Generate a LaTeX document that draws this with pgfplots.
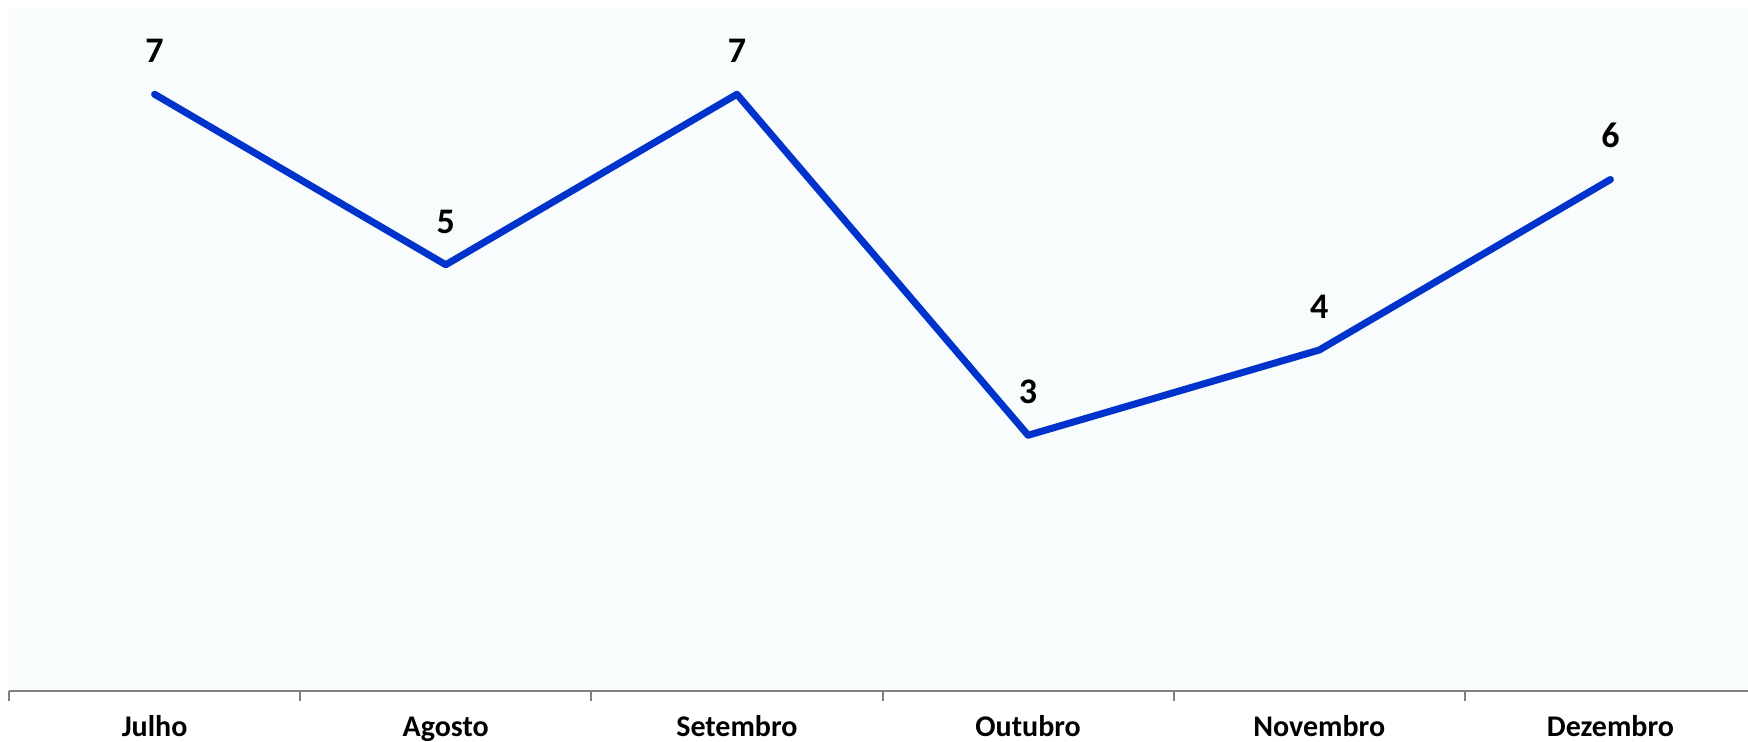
\documentclass[border=0pt]{standalone}
\usepackage{pgfplots}
\pgfplotsset{compat=1.18}
\usepackage{fontspec}
\setmainfont{Carlito}
\definecolor{linecol}{RGB}{0,51,204}
\definecolor{plotbg}{RGB}{248,252,253}
\definecolor{axgray}{RGB}{128,128,128}
\begin{document}
\begin{tikzpicture}
\useasboundingbox (0,0) rectangle (874pt,370.5pt);
\clip (0,0) rectangle (874pt,370.5pt);
\begin{axis}[
  at={(4.5pt,25pt)}, anchor=south west,
  scale only axis, width=873.5pt, height=341pt,
  xmin=-0.5, xmax=5.5, ymin=0, ymax=8,
  axis y line=none,
  axis x line*=bottom,
  x axis line style={draw=axgray, line width=1pt, -},
  axis background/.style={fill=plotbg},
  xtick={0,1,2,3,4,5},
  xticklabels={Julho,Agosto,Setembro,Outubro,Novembro,Dezembro},
  major tick length=0pt,
  minor xtick={-0.5,0.5,1.5,2.5,3.5,4.5,5.5},
  minor tick length=5pt,
  tick align=outside,
  minor tick style={draw=axgray, line width=1pt},
  xticklabel style={font=\bfseries\fontsize{15}{18}\selectfont, anchor=base, yshift=-22.5pt},
  clip=false,
  nodes near coords,
  /pgf/number format/assume math mode=true,
  every node near coord/.append style={font=\bfseries\fontsize{18}{21}\selectfont, anchor=south, inner sep=0pt, yshift=14pt, text=black},
]
\addplot[color=linecol, line width=3.5pt, line cap=round, line join=round, mark=none] coordinates {
(0,7) (1,5) (2,7) (3,3) (4,4) (5,6)
};
\end{axis}
\end{tikzpicture}
\end{document}
